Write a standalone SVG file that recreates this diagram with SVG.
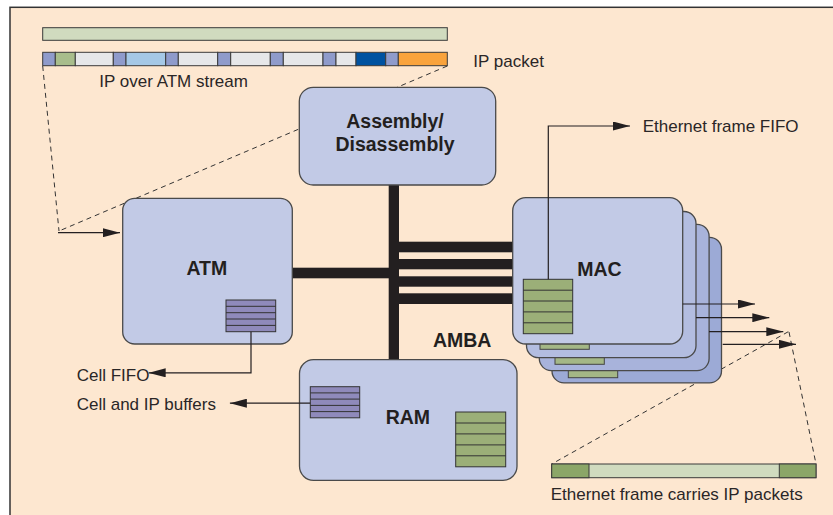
<svg xmlns="http://www.w3.org/2000/svg" width="833" height="515" viewBox="0 0 833 515">
  <defs>
    <style>
      .frame { fill: #FDE7D0; stroke: #333; stroke-width: 1.5; }
      .box { stroke: #4A4A4A; stroke-width: 1.3; }
      .b0 { fill: #C2CAE6; }
      .b1 { fill: #B3BDE0; }
      .b2 { fill: #A8B3DB; }
      .b3 { fill: #9CAAD6; }
      .seg { stroke: #3A3A3A; stroke-width: 1; }
      .hdr { fill: #8F9BCB; }
      .gry { fill: #E6E7E9; }
      .fifo-p { fill: #8F8ABB; stroke: #333; stroke-width: 1; }
      .fifo-g { fill: #9BAF78; stroke: #333; stroke-width: 1; }
      .fifo-g2 { fill: #A4B786; stroke: #444; stroke-width: 1; }
      .rowline { stroke: #333; stroke-width: 1; fill: none; }
      .bus { fill: #231F20; }
      .wire { fill: none; stroke: #231F20; stroke-width: 1.2; }
      .guide { fill: none; stroke: #333; stroke-width: 1; stroke-dasharray: 5 4; }
      .lbl { font-family: "Liberation Sans", Arial, Helvetica, sans-serif; font-size: 17px; fill: #2A2627; }
      .name { font-family: "Liberation Sans", Arial, Helvetica, sans-serif; font-size: 19.5px; font-weight: bold; fill: #231F20; text-anchor: middle; }
    </style>
    <marker id="ah" markerUnits="userSpaceOnUse" markerWidth="17" markerHeight="9" refX="17" refY="4.5" orient="auto">
      <path d="M0,0 L17,4.5 L0,9 Z" fill="#231F20"/>
    </marker>
  </defs>

  <!-- page background -->
  <rect x="0" y="0" width="833" height="515" fill="#FFFFFF"/>
  <rect class="frame" x="10" y="7.3" width="840" height="530"/>

  <!-- IP packet bar and IP over ATM cell stream -->
  <g id="ip-stream">
    <rect class="seg" x="42.7" y="27.7" width="404.6" height="12.6" fill="#D0DBBF"/>
    <rect class="seg hdr" x="42.7" y="52.3" width="12.6" height="13.4"/>
    <rect class="seg" x="55.3" y="52.3" width="20" height="13.4" fill="#A8BD8C"/>
    <rect class="seg gry" x="75.3" y="52.3" width="38" height="13.4"/>
    <rect class="seg hdr" x="113.3" y="52.3" width="12.7" height="13.4"/>
    <rect class="seg" x="126" y="52.3" width="39.7" height="13.4" fill="#A5C8E6"/>
    <rect class="seg hdr" x="165.7" y="52.3" width="12.6" height="13.4"/>
    <rect class="seg gry" x="178.3" y="52.3" width="39.4" height="13.4"/>
    <rect class="seg hdr" x="217.7" y="52.3" width="13" height="13.4"/>
    <rect class="seg gry" x="230.7" y="52.3" width="39.6" height="13.4"/>
    <rect class="seg hdr" x="270.3" y="52.3" width="13" height="13.4"/>
    <rect class="seg gry" x="283.3" y="52.3" width="39.7" height="13.4"/>
    <rect class="seg hdr" x="323" y="52.3" width="13" height="13.4"/>
    <rect class="seg gry" x="336" y="52.3" width="20" height="13.4"/>
    <rect class="seg" x="356" y="52.3" width="29.7" height="13.4" fill="#0052A0"/>
    <rect class="seg hdr" x="385.7" y="52.3" width="12.6" height="13.4"/>
    <rect class="seg" x="398.3" y="52.3" width="49" height="13.4" fill="#F9A33C"/>
    <text class="lbl" x="99.3" y="86.7">IP over ATM stream</text>
    <text class="lbl" x="473.3" y="67">IP packet</text>
  </g>

  <!-- Ethernet frame bar -->
  <g id="eth-frame">
    <rect class="seg" x="551.7" y="464" width="264.3" height="13.7" fill="#D0DBBF"/>
    <rect class="seg" x="551.7" y="464" width="37.3" height="13.7" fill="#8BA668"/>
    <rect class="seg" x="779.3" y="464" width="36.7" height="13.7" fill="#8BA668"/>
    <text class="lbl" x="550.7" y="500">Ethernet frame carries IP packets</text>
  </g>

  <!-- dashed expansion guides (behind the blocks) -->
  <g id="guides">
    <path class="guide" d="M42.7,66 L59,231"/>
    <path class="guide" d="M447.3,66 L59,231"/>
    <path class="guide" d="M788.3,331.7 L551.7,464"/>
    <path class="guide" d="M789,332 L816,464"/>
  </g>

  <!-- AMBA bus -->
  <g id="amba">
    <rect class="bus" x="388.7" y="185" width="10.3" height="175"/>
    <rect class="bus" x="292" y="267.7" width="97" height="10.6"/>
    <rect class="bus" x="399" y="241.7" width="114" height="10.6"/>
    <rect class="bus" x="399" y="259" width="114" height="10.3"/>
    <rect class="bus" x="399" y="276.3" width="114" height="10.4"/>
    <rect class="bus" x="399" y="293.3" width="114" height="10.7"/>
    <text class="name" x="462.2" y="346.7">AMBA</text>
  </g>

  <g id="assembly">
    <rect class="box b0" x="299.3" y="87.3" width="196.4" height="97.7" rx="14"/>
    <text class="name" x="395" y="128.3">Assembly/</text>
    <text class="name" x="395" y="151">Disassembly</text>
  </g>

  <g id="atm">
    <rect class="box b0" x="122.7" y="198.3" width="169.6" height="145.7" rx="12"/>
    <text class="name" x="206.8" y="275">ATM</text>
    <rect class="fifo-p" x="226" y="300" width="49.7" height="31.7"/>
    <path class="rowline" d="M226,306.3 H275.7 M226,312.7 H275.7 M226,319 H275.7 M226,325.4 H275.7"/>
  </g>

  <g id="ram">
    <rect class="box b0" x="299.5" y="359.6" width="217.5" height="120.7" rx="14"/>
    <text class="name" x="407.9" y="423.8">RAM</text>
    <rect class="fifo-p" x="310.3" y="386.7" width="49.4" height="31.1"/>
    <path class="rowline" d="M310.3,392.9 H359.7 M310.3,399.1 H359.7 M310.3,405.4 H359.7 M310.3,411.6 H359.7"/>
    <rect class="fifo-g" x="455.7" y="412" width="50" height="54.8"/>
    <path class="rowline" d="M455.7,423 H505.7 M455.7,433.9 H505.7 M455.7,444.9 H505.7 M455.7,455.8 H505.7"/>
  </g>

  <g id="mac">
    <rect class="box b3" x="552" y="237.3" width="169.5" height="145.6" rx="12"/>
    <rect class="fifo-g2" x="568.3" y="323.3" width="49.4" height="54.4"/>
    <rect class="box b2" x="539.3" y="224.3" width="169.8" height="146.3" rx="12"/>
    <rect class="fifo-g2" x="555" y="309.9" width="49.3" height="54.4"/>
    <rect class="box b1" x="526.5" y="211.5" width="169.5" height="146.2" rx="12"/>
    <rect class="fifo-g2" x="540" y="294.9" width="49.3" height="54.4"/>
    <rect class="box b0" x="512.7" y="197.7" width="170" height="146.3" rx="13"/>
    <text class="name" x="599.5" y="276">MAC</text>
    <rect class="fifo-g" x="523.3" y="279.3" width="49.4" height="54.4"/>
    <path class="rowline" d="M523.3,290.2 H572.7 M523.3,301 H572.7 M523.3,311.9 H572.7 M523.3,322.8 H572.7"/>
  </g>

  <!-- signal arrows -->
  <g id="connectors">
    <path class="wire" d="M58,232.7 H120" marker-end="url(#ah)"/>
    <path class="wire" d="M251,331.7 V372.8 H148.7" marker-end="url(#ah)"/>
    <path class="wire" d="M310.3,403.2 H229.9" marker-end="url(#ah)"/>
    <path class="wire" d="M548.3,279.3 V126 H630" marker-end="url(#ah)"/>
    <path class="wire" d="M682.7,304 H755" marker-end="url(#ah)"/>
    <path class="wire" d="M696,317.7 H769.3" marker-end="url(#ah)"/>
    <path class="wire" d="M709,331.7 H783.3" marker-end="url(#ah)"/>
    <path class="wire" d="M722.7,344.3 H796" marker-end="url(#ah)"/>
  </g>

  <g id="labels">
    <text class="lbl" x="76.7" y="380.6">Cell FIFO</text>
    <text class="lbl" x="76.7" y="410">Cell and IP buffers</text>
    <text class="lbl" x="642.7" y="131.7">Ethernet frame FIFO</text>
  </g>
</svg>
